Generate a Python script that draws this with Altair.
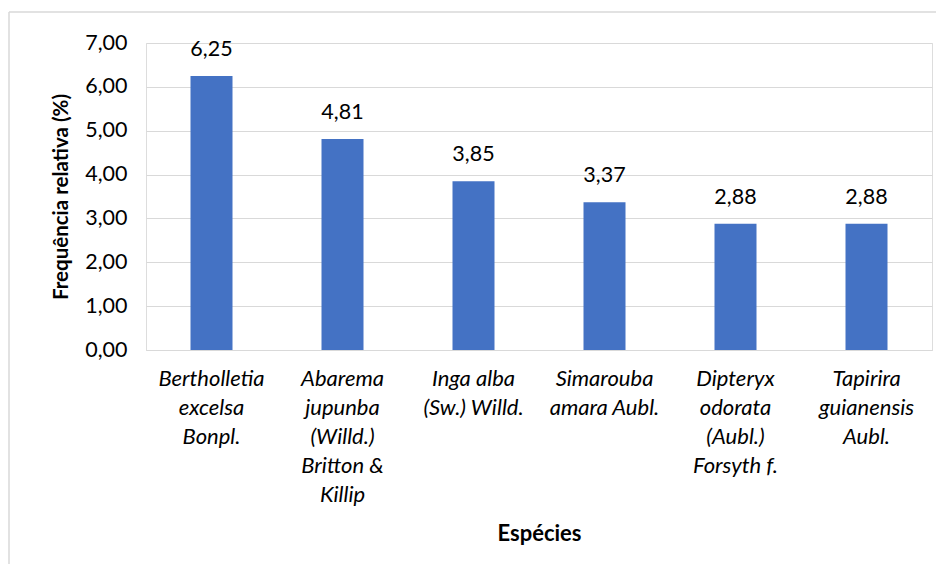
import altair as alt
import pandas as pd

species = [
    "Bertholletia|excelsa|Bonpl.",
    "Abarema|jupunba|(Willd.)|Britton &|Killip",
    "Inga alba|(Sw.) Willd.",
    "Simarouba|amara Aubl.",
    "Dipteryx|odorata|(Aubl.)|Forsyth f.",
    "Tapirira|guianensis|Aubl.",
]
freq = [6.25, 4.81, 3.85, 3.37, 2.88, 2.88]
y_ticks = [0, 1, 2, 3, 4, 5, 6, 7]

df = pd.DataFrame({"especie": species, "freq": freq})

FONT = "Lato"
W, H = 786, 307
GRID = "#D9D9D9"

x = alt.X(
    "especie:N",
    sort=species,
    title="Espécies",
    scale=alt.Scale(paddingInner=0.68, paddingOuter=0.34),
    axis=alt.Axis(
        labelExpr="split(datum.label, '|')",
        labelAngle=0,
        labelFont=FONT,
        labelFontStyle="italic",
        labelFontSize=22,
        labelLineHeight=29,
        labelPadding=18,
        labelColor="#000000",
        labelLimit=300,
        ticks=False,
        domain=True,
        domainColor=GRID,
        domainWidth=1,
        titleFont=FONT,
        titleFontSize=22,
        titleFontWeight="bold",
        titleColor="#000000",
        titlePadding=18,
    ),
)
y = alt.Y(
    "freq:Q",
    scale=alt.Scale(domain=[0, 7]),
    title="Frequência relativa (%)",
    axis=alt.Axis(
        values=y_ticks,
        labelExpr="replace(format(datum.value, '.2f'), '.', ',')",
        labelFont=FONT,
        labelFontSize=21.5,
        labelColor="#000000",
        labelPadding=19,
        ticks=False,
        domain=False,
        grid=True,
        gridColor=GRID,
        gridWidth=1,
        titleFont=FONT,
        titleFontSize=20.5,
        titleFontWeight="bold",
        titleColor="#000000",
        titlePadding=13,
    ),
)

base = alt.Chart(df)
bars = base.mark_bar(color="#4472C4", size=42).encode(x=x, y=y)
labels = base.mark_text(
    font=FONT, fontSize=21.5, color="#000000", baseline="alphabetic", dy=-20
).transform_calculate(
    lbl="replace(format(datum.freq, '.2f'), '.', ',')"
).encode(x=alt.X("especie:N", sort=species), y="freq:Q", text="lbl:N")

frame_data = alt.Data(values=[{"k": 1}])
left_rule = alt.Chart(frame_data).mark_rule(color=GRID, strokeWidth=1.5, clip=False).encode(
    x=alt.value(-137), y=alt.value(-31), y2=alt.value(521)
)
top_rule = alt.Chart(frame_data).mark_rule(color=GRID, strokeWidth=1.5, clip=False).encode(
    x=alt.value(-137), x2=alt.value(790), y=alt.value(-31)
)

chart = (
    alt.layer(left_rule, top_rule, bars, labels)
    .properties(width=W, height=H, padding={"left": 0, "top": 3, "right": 0, "bottom": 0})
    .configure_view(strokeOpacity=0)
    .configure(background="white")
)

chart.save("out.html", embed_options={"renderer": "svg", "actions": False})
